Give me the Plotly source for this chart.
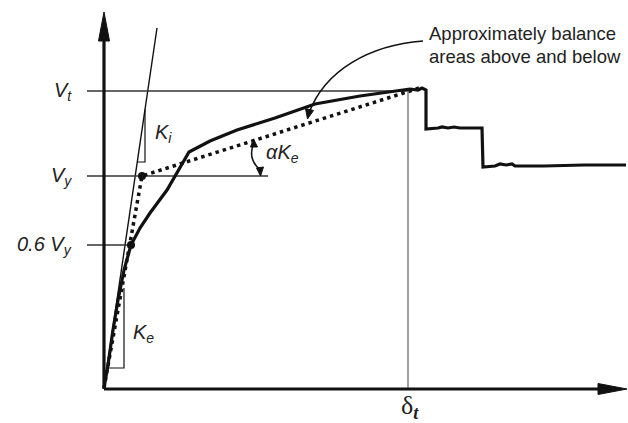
import plotly.graph_objects as go

# ---------------- data (displacement / force units of the sketch) ----------------
curve_disp = [0, 4, 9, 14, 20, 27, 36, 46, 63, 76, 85, 106, 133, 171, 211, 256, 296, 306, 314, 318, 322,
              322, 334, 338, 344, 350, 356, 362, 378,
              379, 391, 396, 402, 408, 411, 440, 480, 522]
curve_force = [0, 23, 58, 88, 118, 143, 160, 175, 198, 221, 236, 247, 258, 270, 284, 292, 297, 299, 298, 300, 298,
               259, 260, 261, 260, 261, 260, 260, 260,
               221, 222, 224, 223, 224, 222, 222, 223, 223]
bilin_disp = [0, 38, 306, 315]
bilin_force = [0, 212, 297, 300]
ki_disp = [0, 53]
ki_force = [0, 360]
key_disp = [27, 38]          # 0.6 Vy point and yield point
key_force = [143, 212]
V_t, V_y, V_06 = 297, 212, 143
delta_t = 304
level_labels = ["<i>V<sub>t</sub></i>", "<i>V<sub>y</sub></i>", "<i>0.6 V<sub>y</sub></i>"]

X0, Y0 = 104, 388  # pixel location of the origin


def P(xp, yp):
    return xp - X0, Y0 - yp


fig = go.Figure()

BLACK = "#111111"

# Ki line
fig.add_trace(go.Scatter(x=ki_disp, y=ki_force, mode="lines", line=dict(color=BLACK, width=1.4), hoverinfo="skip"))
# level lines
for lv, xe in [(V_t, delta_t), (V_y, 164), (V_06, 27)]:
    fig.add_trace(go.Scatter(x=[-17, xe], y=[lv, lv], mode="lines",
                             line=dict(color="#333333", width=1.3), hoverinfo="skip"))
# delta_t line
fig.add_trace(go.Scatter(x=[delta_t, delta_t], y=[0, V_t], mode="lines",
                         line=dict(color="#808080", width=1.5), hoverinfo="skip"))
# Ki triangle
kx1 = 41
fig.add_trace(go.Scatter(x=[226 / 6.79, kx1, kx1], y=[226, 226, kx1 * 6.79], mode="lines",
                         line=dict(color=BLACK, width=1.2), hoverinfo="skip"))
# Ke triangle
fig.add_trace(go.Scatter(x=[4, 20, 20], y=[20, 20, 100], mode="lines",
                         line=dict(color=BLACK, width=1.2), hoverinfo="skip"))
# bilinear dotted
fig.add_trace(go.Scatter(x=bilin_disp, y=bilin_force, mode="lines",
                         line=dict(color=BLACK, width=3.5, dash="3.5px,4px"), hoverinfo="skip"))
# solid pushover curve
fig.add_trace(go.Scatter(x=curve_disp, y=curve_force, mode="lines",
                         line=dict(color=BLACK, width=3.2), hoverinfo="skip"))
# key points
fig.add_trace(go.Scatter(x=key_disp, y=key_force, mode="markers",
                         marker=dict(color=BLACK, size=8), hoverinfo="skip"))

shapes = []
# axes
shapes.append(dict(type="line", xref="x", yref="y", x0=0, y0=-1, x1=500, y1=-1, line=dict(color=BLACK, width=3.2)))
shapes.append(dict(type="line", xref="x", yref="y", x0=0, y0=-1, x1=0, y1=352, line=dict(color=BLACK, width=3.2)))


def tri(pts):
    d = "M " + " L ".join(f"{x},{y}" for x, y in pts) + " Z"
    return dict(type="path", xref="x", yref="y", path=d, fillcolor=BLACK, line=dict(color=BLACK, width=1))


shapes.append(tri([P(104, 12), P(98.5, 41), P(109.5, 41)]))
shapes.append(tri([P(627, 389), P(598, 383.5), P(598, 394.5)]))


def curve_path(pts, kind="C"):
    (sx, sy) = P(*pts[0])
    rest = " ".join(f"{P(*p)[0]},{P(*p)[1]}" for p in pts[1:])
    return f"M {sx},{sy} {kind} {rest}"


# callout arrow
shapes.append(dict(type="path", xref="x", yref="y",
                   path=curve_path([(423, 41), (370, 45), (325, 70), (309, 113)]),
                   line=dict(color=BLACK, width=1.6)))
shapes.append(tri([P(307.5, 119), P(313.5, 110.5), P(305.5, 108.5)]))

# alpha Ke arc with arrow heads
shapes.append(dict(type="path", xref="x", yref="y",
                   path=curve_path([(254, 143), (247, 158), (260, 170)], "Q"),
                   line=dict(color=BLACK, width=1.5)))
shapes.append(tri([P(260.5, 176), P(256.5, 168), P(263.5, 167)]))
shapes.append(tri([P(253.5, 139), P(250.5, 147), P(257.5, 147)]))

annotations = []
LAB = dict(family="Liberation Sans, Arial, sans-serif", size=20, color="#222222")
for lv, txt in zip([V_t, V_y, V_06], level_labels):
    annotations.append(dict(x=-30, y=lv, xref="x", yref="y", text=txt, showarrow=False,
                            xanchor="right", yanchor="middle", font=LAB))
annotations.append(dict(x=P(153, 0)[0], y=P(0, 133)[1], xref="x", yref="y", text="<i>K<sub>i</sub></i>",
                        showarrow=False, xanchor="left", yanchor="middle", font=LAB))
annotations.append(dict(x=P(131, 0)[0], y=P(0, 333)[1], xref="x", yref="y", text="<i>K<sub>e</sub></i>",
                        showarrow=False, xanchor="left", yanchor="middle", font=LAB))
annotations.append(dict(x=P(264, 0)[0], y=P(0, 153)[1], xref="x", yref="y", text="<i>\u03b1K<sub>e</sub></i>",
                        showarrow=False, xanchor="left", yanchor="middle", font=LAB))
annotations.append(dict(x=delta_t + 2, y=P(0, 407)[1], xref="x", yref="y",
                        text="\u03b4<sub><b><i>t</i></b></sub>", showarrow=False,
                        xanchor="center", yanchor="middle",
                        font=dict(family="Liberation Serif, Times New Roman, serif", size=26, color="#222222")))
TXT = dict(family="Liberation Sans, Arial, sans-serif", size=18.5, color="#222222")
annotations.append(dict(x=P(427, 0)[0], y=P(0, 33)[1], xref="x", yref="y", text="Approximately balance",
                        showarrow=False, xanchor="left", yanchor="middle", font=TXT))
annotations.append(dict(x=P(427, 0)[0], y=P(0, 56)[1], xref="x", yref="y", text="areas above and below",
                        showarrow=False, xanchor="left", yanchor="middle", font=TXT))

fig.update_layout(
    width=628, height=423, autosize=False,
    margin=dict(l=0, r=0, t=0, b=0),
    paper_bgcolor="white", plot_bgcolor="white",
    showlegend=False,
    xaxis=dict(range=[-X0, 628 - X0], visible=False, fixedrange=True),
    yaxis=dict(range=[Y0 - 423, Y0], visible=False, fixedrange=True),
    shapes=shapes, annotations=annotations,
)

fig.write_html("out.html", config={"displayModeBar": False},
               post_script="document.body.style.margin='0';")
